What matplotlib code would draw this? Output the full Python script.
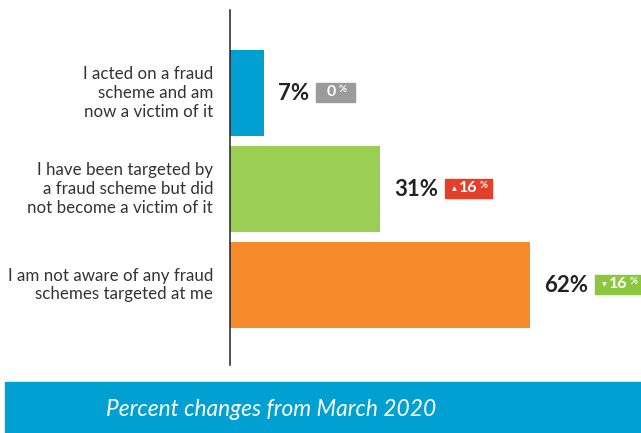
import matplotlib
matplotlib.use("Agg")
import matplotlib.pyplot as plt
from matplotlib.patches import Rectangle

# data
labels = [
    "I acted on a fraud\nscheme and am\nnow a victim of it",
    "I have been targeted by\na fraud scheme but did\nnot become a victim of it",
    "I am not aware of any fraud\nschemes targeted at me",
]
values = [7, 31, 62]
changes = ["0", "16", "16"]
change_dir = ["none", "up", "down"]

bar_colors = ["#00a0d2", "#9bcf53", "#f58b2b"]
badge_colors = {"none": "#9b9b9b", "up": "#e2402b", "down": "#8dc63f"}
arrows = {"none": "", "up": "\u25b2", "down": "\u25bc"}

FONT = "Lato"
W, H = 641, 433

fig = plt.figure(figsize=(W / 100, H / 100), dpi=100)
ax = fig.add_axes([230 / W, (H - 365) / H, 411 / W, 355 / H])

y = list(range(len(values)))
ax.barh(y, values, height=0.896, color=bar_colors)
ax.set_xlim(0, 411 / 300 * 62)
ax.set_ylim(2.833, -0.865)
for s in ["top", "right", "bottom"]:
    ax.spines[s].set_visible(False)
ax.spines["left"].set_color("#222222")
ax.spines["left"].set_linewidth(1.1)
ax.set_xticks([])
ax.set_yticks([])

# category labels, right aligned left of the axis
for yi, lab in zip(y, labels):
    ax.annotate(lab, xy=(0, yi), xytext=(-17, 0), textcoords="offset pixels",
                ha="right", va="center", multialignment="right",
                fontsize=12.2, family=FONT, color="#333333", linespacing=1.22)

# value labels
val_texts = []
for yi, v in zip(y, values):
    t = ax.annotate(f"{v}%", xy=(v, yi), xytext=(14, 0), textcoords="offset pixels",
                    ha="left", va="center", fontsize=16, fontweight="bold",
                    style="normal", family=FONT, color="#222222")
    val_texts.append(t)

fig.canvas.draw()
r = fig.canvas.get_renderer()

# change badges next to value labels
for t, c, d in zip(val_texts, changes, change_dir):
    ext = t.get_window_extent(r)
    x0 = ext.x1 + 7
    yc = (ext.y0 + ext.y1) / 2 + 1
    pad_l = 11 if d == "none" else 7
    if d != "none":
        fig.text(x0 + pad_l, yc - 1, arrows[d], transform=None, fontsize=4.5,
                 family="DejaVu Sans", color="white", ha="left", va="center", zorder=5)
    main = fig.text(x0 + pad_l + (7 if d != "none" else 0), yc, c, transform=None,
                    fontsize=11.5, fontweight="bold", family=FONT, color="white",
                    ha="left", va="center", zorder=5)
    me = main.get_window_extent(r)
    pct = fig.text(me.x1 + 2, yc + 3, "%", transform=None, fontsize=7,
                   fontweight="bold", family=FONT, color="white",
                   ha="left", va="center", zorder=5)
    pe = pct.get_window_extent(r)
    pad_r = 9 if d == "none" else 4
    fig.patches.append(Rectangle((x0, yc - 9.5), pe.x1 + pad_r - x0, 19,
                                 transform=None, color=badge_colors[d], zorder=1))

# bottom banner
fig.patches.append(Rectangle((5 / W, 0), 636 / W, 51 / H, transform=fig.transFigure,
                             color="#00a0d2", zorder=0))
fig.text(271 / W, (H - 409) / H, "Percent changes from March 2020", ha="center",
         va="center", fontsize=16.4, style="italic", family=FONT, color="white")

fig.savefig("out.png", dpi=100)
